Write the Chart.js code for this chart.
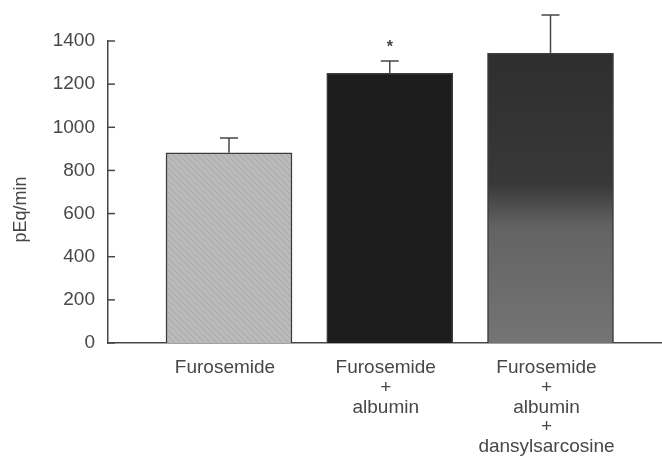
<!DOCTYPE html>
<html>
<head>
<meta charset="utf-8">
<script src="https://cdn.jsdelivr.net/npm/chart.js@4"></script>
<style>
  html, body { margin: 0; padding: 0; background: #fff; }
  #wrap { width: 662px; height: 458px; }
</style>
</head>
<body>
<div id="wrap"><canvas id="chart"></canvas></div>
<script>
const groups = [
    'Furosemide',
    ['Furosemide', '+', 'albumin'],
    ['Furosemide', '+', 'albumin', '+', 'dansylsarcosine'],
];
const positions = [1, 2, 3];
const means = [882, 1250, 1343];
const errors = [68, 57, 177];
const marks = ['', '*', ''];
const yTicks = [0, 200, 400, 600, 800, 1000, 1200, 1400];

const ink = '#474747';
const font = { family: 'Liberation Sans, Arial, sans-serif', size: 19 };

// light diagonal hatch for the first bar
function hatch() {
    const c = document.createElement('canvas');
    c.width = 6; c.height = 6;
    const g = c.getContext('2d');
    g.fillStyle = '#bababa';
    g.fillRect(0, 0, 6, 6);
    g.strokeStyle = '#a8a8a8';
    g.lineWidth = 1;
    g.beginPath();
    g.moveTo(0, 0); g.lineTo(6, 6);
    g.moveTo(-3, 3); g.lineTo(3, 9);
    g.moveTo(3, -3); g.lineTo(9, 3);
    g.stroke();
    return g.createPattern(c, 'repeat');
}

function barFill(ctx) {
    const i = ctx.dataIndex;
    if (i === 0) return hatch();
    if (i === 1) return '#1d1d1d';
    const area = ctx.chart.chartArea;
    if (!area) return '#555';
    const y = ctx.chart.scales.y;
    const gr = ctx.chart.ctx.createLinearGradient(0, y.getPixelForValue(means[i]), 0, area.bottom);
    gr.addColorStop(0, '#2e2e2e');
    gr.addColorStop(0.45, '#383838');
    gr.addColorStop(0.6, '#636363');
    gr.addColorStop(1, '#747474');
    return gr;
}

// error bars + significance mark
const errorBars = {
    id: 'errorBars',
    afterDatasetsDraw(chart) {
        const { ctx, scales: { x, y } } = chart;
        ctx.save();
        ctx.strokeStyle = ink;
        ctx.lineWidth = 1.5;
        positions.forEach((p, i) => {
            const px = x.getPixelForValue(p);
            const base = y.getPixelForValue(means[i]);
            const top = y.getPixelForValue(means[i] + errors[i]);
            ctx.beginPath();
            ctx.moveTo(px, base);
            ctx.lineTo(px, top);
            ctx.moveTo(px - 9, top);
            ctx.lineTo(px + 9, top);
            ctx.stroke();
            if (marks[i]) {
                ctx.fillStyle = ink;
                ctx.font = 'bold 16px ' + font.family;
                ctx.textAlign = 'center';
                ctx.textBaseline = 'middle';
                ctx.fillText(marks[i], px, top - 13);
            }
        });
        ctx.restore();
    }
};

// y ticks point inward
const innerTicks = {
    id: 'innerTicks',
    afterDraw(chart) {
        const { ctx, chartArea, scales: { y } } = chart;
        ctx.save();
        ctx.strokeStyle = ink;
        ctx.lineWidth = 1.5;
        y.ticks.forEach(t => {
            const py = y.getPixelForValue(t.value);
            ctx.beginPath();
            ctx.moveTo(chartArea.left, py);
            ctx.lineTo(chartArea.left + 7, py);
            ctx.stroke();
        });
        ctx.restore();
    }
};

new Chart(document.getElementById('chart'), {
    type: 'bar',
    data: {
        datasets: [{
            data: positions.map((p, i) => ({ x: p, y: means[i] })),
            backgroundColor: barFill,
            borderColor: '#3c3c3c',
            borderWidth: 1.5,
            barThickness: 126,
        }]
    },
    options: {
        responsive: true,
        maintainAspectRatio: false,
        animation: false,
        layout: { padding: { top: 41, left: 0, right: 0, bottom: 0 } },
        plugins: { legend: { display: false }, tooltip: { enabled: false } },
        scales: {
            x: {
                type: 'linear',
                offset: false,
                min: 0.2473,
                max: 3.6936,
                grid: { display: false },
                border: { color: ink, width: 1.5 },
                afterFit(scale) { scale.height = 115; },
                afterBuildTicks(scale) {
                    scale.ticks = positions.map(v => ({ value: v }));
                },
                ticks: {
                    autoSkip: false,
                    maxRotation: 0,
                    padding: 7,
                    labelOffset: -4,
                    color: ink,
                    font: { ...font, lineHeight: 1.04 },
                    callback: v => groups[positions.indexOf(v)] ?? '',
                },
            },
            y: {
                min: 0,
                max: 1400,
                afterBuildTicks(scale) {
                    scale.ticks = yTicks.map(v => ({ value: v }));
                },
                grid: { display: false, drawTicks: false },
                border: { color: ink, width: 1.5 },
                afterFit(scale) { scale.width = 108; },
                ticks: { padding: 13, color: ink, font, callback: v => String(v) },
                title: {
                    display: true,
                    text: 'pEq/min       ',
                    color: ink,
                    font: { ...font, size: 18 },
                    padding: 10,
                },
            },
        },
    },
    plugins: [errorBars, innerTicks],
});
</script>
</body>
</html>
